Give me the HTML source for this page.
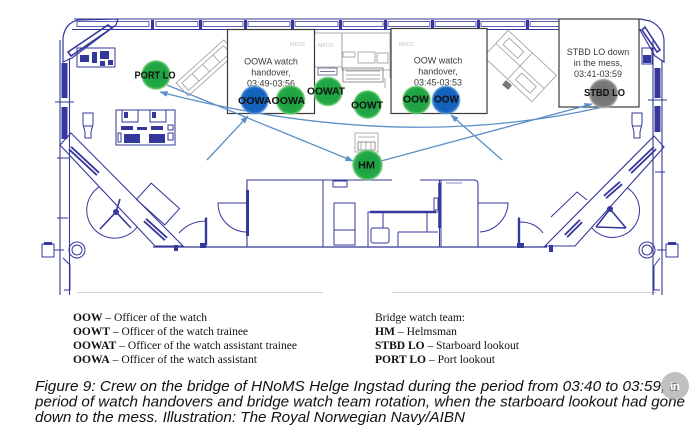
<!DOCTYPE html>
<html><head><meta charset="utf-8">
<style>
html,body{margin:0;padding:0;background:#fff;}
body{width:700px;height:428px;overflow:hidden;position:relative;}
svg{position:absolute;left:0;top:0;display:block;}
</style></head><body>
<svg width="700" height="428" viewBox="0 0 700 428" xmlns="http://www.w3.org/2000/svg">
<defs>
<marker id="ah" markerWidth="8" markerHeight="6" refX="7.5" refY="3" orient="auto" markerUnits="userSpaceOnUse"><path d="M0,0 L8,3 L0,6 z" fill="#5b8fc7"/></marker>
<radialGradient id="gg"><stop offset="0" stop-color="#1c9e40"/><stop offset="0.78" stop-color="#22a846"/><stop offset="0.9" stop-color="#62c468"/><stop offset="1" stop-color="#b9e6b4" stop-opacity="0"/></radialGradient>
<radialGradient id="gb"><stop offset="0" stop-color="#0f5db5"/><stop offset="0.78" stop-color="#1565c0"/><stop offset="0.9" stop-color="#4e90d8"/><stop offset="1" stop-color="#a8c8ee" stop-opacity="0"/></radialGradient>
<radialGradient id="gy"><stop offset="0" stop-color="#6f6f6f"/><stop offset="0.78" stop-color="#7a7a7a"/><stop offset="0.9" stop-color="#a0a0a0"/><stop offset="1" stop-color="#d0d0d0" stop-opacity="0"/></radialGradient>
</defs>

<!-- faint page line -->
<path d="M77,292.5 H323 M392,292.5 H657" stroke="#d4d4d8" stroke-width="1" fill="none"/>

<!-- ===== floor plan (navy) ===== -->
<g stroke="#34379b" fill="none" stroke-width="1">
  <!-- top wall -->
  <path d="M74,19 H641 M72,29.5 H641"/>
  <g stroke-width="0.8">
    <rect x="77" y="21.5" width="72" height="5"/>
    <rect x="156" y="21.5" width="42" height="5"/>
    <rect x="203" y="21.5" width="40" height="5"/>
    <rect x="248" y="21.5" width="42" height="5"/>
    <rect x="295" y="21.5" width="43" height="5"/>
    <rect x="343" y="21.5" width="40" height="5"/>
    <rect x="388" y="21.5" width="42" height="5"/>
    <rect x="435" y="21.5" width="41" height="5"/>
    <rect x="481" y="21.5" width="44" height="5"/>
    <rect x="530" y="21.5" width="42" height="5"/>
    <rect x="577" y="21.5" width="41" height="5"/>
  </g>
  <g fill="#34379b" stroke="none">
    <rect x="151" y="20" width="3" height="9"/><rect x="199" y="20" width="3" height="9"/>
    <rect x="244" y="20" width="3" height="9"/><rect x="291" y="20" width="3" height="9"/>
    <rect x="339" y="20" width="3" height="9"/><rect x="384" y="20" width="3" height="9"/>
    <rect x="431" y="20" width="3" height="9"/><rect x="477" y="20" width="3" height="9"/>
    <rect x="526" y="20" width="3" height="9"/><rect x="573" y="20" width="3" height="9"/>
  </g>
  <!-- top-left corner -->
  <path d="M63,62 V38 Q65,23 78,20 L118,19 L116,25 L72,58 Z" stroke-width="1.2"/>
  <path d="M68,52 L108,25 L112,28 L71,56 Z" stroke-width="1.6"/>
  <!-- top-left equipment -->
  <rect x="77" y="48" width="38" height="19"/>
  <g fill="#34379b" stroke="none">
    <rect x="80" y="55" width="9" height="7"/><rect x="92" y="52" width="5" height="11"/>
    <rect x="100" y="51" width="9" height="8"/><rect x="100" y="61" width="5" height="5"/><rect x="108" y="60" width="5" height="5"/>
  </g>
  <!-- left wall -->
  <path d="M60,40 V295 M69.5,58 V295" stroke-width="1.1"/>
  <path d="M55,102 H74"/>
  <rect x="61.5" y="63" width="6" height="35" fill="#34379b" stroke="none"/>
  <rect x="61.5" y="107" width="6" height="32" fill="#34379b" stroke="none"/>
  <!-- left chair -->
  <path d="M83,113 H93 V124 L91,132 V138 H85 V132 L83,124 Z"/>
  <path d="M84,126 H92"/>
  <!-- left console -->
  <rect x="116" y="110" width="59" height="35"/>
  <rect x="122" y="110" width="16" height="12"/><rect x="150" y="110" width="16" height="12"/>
  <rect x="168" y="125" width="5" height="5"/><rect x="168" y="133" width="5" height="7"/>
  <rect x="118" y="133" width="3" height="9"/>
  <g fill="#34379b" stroke="none">
    <rect x="121" y="126" width="12" height="4"/><rect x="137" y="127" width="10" height="3"/><rect x="151" y="126" width="12" height="4"/>
    <rect x="124" y="134" width="16" height="9"/><rect x="149" y="134" width="16" height="9"/>
    <rect x="124" y="112" width="4" height="6"/><rect x="152" y="112" width="4" height="6"/>
  </g>
  <!-- lower-left diagonal console -->
  <path d="M60,145 L71,133 L183,246 L155,246 Z" stroke-width="1.1"/>
  <path d="M70,148 L98,174" stroke-width="5"/>
  <path d="M70,148 L98,174" stroke="#fff" stroke-width="1.4"/>
  <path d="M145,220 L166,239" stroke-width="5"/>
  <path d="M145,220 L166,239" stroke="#fff" stroke-width="1.4"/>
  <rect x="-19" y="-11" width="38" height="22" transform="translate(158,204) rotate(42)"/>
  <path d="M99.3,186.8 A28,28 0 1 0 137.1,227"/>
  <path d="M116,212 L100,229 M116,212 L131,228 M116,212 L120,199" stroke-width="1.6"/>
  <circle cx="116" cy="212" r="2.5" fill="#34379b"/>
  <!-- lower-left small items -->
  <circle cx="77" cy="250" r="8"/><circle cx="77" cy="250" r="5"/>
  <rect x="42" y="244" width="12" height="13"/><path d="M54,250 H64"/>
  <rect x="44" y="242" width="8" height="3" fill="#34379b" stroke="none"/>
  <path d="M63,258 L70,265 L70,290 L64,290"/>
  <path d="M57,158 H70 M57,218 H68"/>
  <!-- floor -->
  <path d="M153,247 H547" stroke-width="1.2"/>
  <!-- left small door element -->
  <path d="M206,247 V217 M206,221 Q190,221 179,233"/>
  <path d="M206,218 V245" stroke-width="2.4"/>
  <rect x="200" y="243" width="6" height="5" fill="#34379b" stroke="none"/>
  <rect x="174" y="245" width="4" height="6" fill="#34379b" stroke="none"/>
  <!-- central block -->
  <path d="M247,247 V180 H392 M420,180 H474 Q478,180 478,184 V247" stroke-width="1.1"/>
  <path d="M247.5,190 V236" stroke-width="3"/>
  <path d="M247,203 H218 A29,29 0 0 0 247,232"/>
  <path d="M323,180 V247"/>
  <rect x="333" y="181" width="14" height="6"/>
  <rect x="334" y="203" width="21" height="42"/><path d="M334,230 H355"/>
  <path d="M368,247 V212 H438"/>
  <path d="M370,212 H436" stroke-width="2.5"/>
  <path d="M383,212 V228 M398,232 V247 M398,232 H438 M427,212 V232"/>
  <rect x="371" y="228" width="18" height="15" rx="2"/>
  <path d="M439.5,180 V247 M441,180 V247"/>
  <path d="M439.5,183 V228" stroke-width="2.6"/>
  <rect x="434" y="198" width="4" height="12"/>
  <path d="M478,203 H508 A30,30 0 0 1 480,232"/>
  <path d="M446,183 H462" stroke-width="0.6"/>
  <!-- right small door element -->
  <path d="M519,247 V217 M520,222 Q535,222 543,233"/>
  <path d="M519,218 V245" stroke-width="2.4"/>
  <rect x="517" y="243" width="7" height="5" fill="#34379b" stroke="none"/>
  <rect x="549" y="245" width="4" height="7" fill="#34379b" stroke="none"/>
  <!-- lower-right diagonal console -->
  <path d="M545,246 L654,136 L664,147 L575,246 Z" stroke-width="1.1"/>
  <path d="M566,236 L581,221" stroke-width="5"/><path d="M566,236 L581,221" stroke="#fff" stroke-width="1.4"/>
  <path d="M605,197 L621,183" stroke-width="5"/><path d="M605,197 L621,183" stroke="#fff" stroke-width="1.4"/>
  <path d="M630,172 L655,148" stroke-width="5"/><path d="M630,172 L655,148" stroke="#fff" stroke-width="1.4"/>
  <path d="M551,217 L577,192 L587,200"/>
  <path d="M626.9,187.6 A27,27 0 1 1 591.5,227.4"/>
  <path d="M610,209 L596,227 M610,209 L626,228 M596,227 L626,228" stroke-width="1.6"/>
  <circle cx="610" cy="209" r="2.5" fill="#34379b"/>
  <!-- right wall -->
  <path d="M653,40 V295 M662,60 V295" stroke-width="1.1"/>
  <path d="M648,100 H667 M655,172 H665"/>
  <rect x="654.5" y="68" width="6" height="30" fill="#34379b" stroke="none"/>
  <rect x="654.5" y="106" width="6" height="26" fill="#34379b" stroke="none"/>
  <!-- top-right corner -->
  <path d="M640,19 L650,21 Q663,27 664,40 V62 L655,56 L640,30" stroke-width="1.2"/>
  <path d="M645,27 L660,50 L657,52 L642,30 Z" stroke-width="1.6"/>
  <rect x="642" y="48" width="10" height="16"/>
  <rect x="643" y="55" width="8" height="8" fill="#34379b" stroke="none"/>
  <!-- right chair -->
  <path d="M632,113 H642 V124 L640,132 V138 H634 V132 L632,124 Z"/>
  <path d="M633,126 H641"/>
  <!-- lower-right small items -->
  <circle cx="647" cy="250" r="8"/><circle cx="647" cy="250" r="5"/>
  <rect x="666" y="244" width="12" height="13"/><path d="M657,250 H666"/>
  <rect x="668" y="242" width="8" height="3" fill="#34379b" stroke="none"/>
  <path d="M660,258 L654,266 L654,290 L660,290"/>
</g>

<!-- ===== gray equipment ===== -->
<g stroke="#9a9aa0" fill="none" stroke-width="0.8">
  <g transform="translate(206,68) rotate(-42)">
    <rect x="-32" y="-9" width="64" height="18"/>
    <rect x="-28" y="-5" width="56" height="10"/>
    <path d="M-14,-5 V5 M0,-5 V5 M14,-5 V5"/>
  </g>
  <rect x="313" y="33" width="29" height="34"/>
  <rect x="342" y="33" width="48" height="37"/>
  <rect x="343" y="52" width="12" height="5"/>
  <rect x="358" y="52" width="17" height="11"/>
  <rect x="377" y="53" width="11" height="10"/>
  <rect x="318" y="68" width="19" height="7" stroke="#55588f"/>
  <path d="M320,71.5 H335" stroke="#55588f"/>
  <rect x="343" y="68" width="40" height="14" stroke="#777"/>
  <path d="M346,71 H380 M346,75 H380 M346,79 H380" stroke="#888"/>
  <path d="M385,78 V88 M315,30 V33 M390,70 V78"/>
  <rect x="355" y="133" width="23" height="19"/>
  <rect x="358" y="142" width="17" height="8" stroke="#777"/>
  <path d="M358,137 H375 M361,142 V150 M366,142 V150 M371,142 V150"/>
  <g transform="translate(520,66) rotate(43)">
    <rect x="-33" y="-18" width="66" height="36"/>
    <path d="M0,-18 V18 M-33,0 H33"/>
    <rect x="-27" y="-13" width="20" height="9"/>
    <rect x="6" y="4" width="20" height="9"/>
  </g>
  <rect x="503" y="82" width="8" height="6" fill="#777" stroke="none" transform="rotate(40 507 85)"/>
</g>
<g fill="#c4c4c8" font-family="Liberation Sans, sans-serif" font-size="5.5">
  <text x="318" y="47">MFD3</text>
</g>

<!-- ===== annotation boxes ===== -->
<g fill="#fff" stroke="#3a3a3a" stroke-width="1.2">
  <rect x="227.5" y="29.5" width="87" height="84"/>
  <rect x="391" y="28.5" width="96" height="85"/>
  <rect x="559" y="19" width="80" height="88"/>
</g>
<g fill="#c4c4c8" font-family="Liberation Sans, sans-serif" font-size="5.5">
  <text x="290" y="46">MFD2</text>
  <text x="399" y="46">MFD1</text>
</g>
<g fill="#3a3a3a" font-family="Liberation Sans, sans-serif" font-size="9" text-anchor="middle">
  <text x="271" y="64.5">OOWA watch</text>
  <text x="271" y="75.5">handover,</text>
  <text x="271" y="86.5">03:49-03:56</text>
  <text x="438" y="63.5">OOW watch</text>
  <text x="438" y="74.5">handover,</text>
  <text x="438" y="85.5">03:45-03:53</text>
  <text x="598" y="55">STBD LO down</text>
  <text x="598" y="66">in the mess,</text>
  <text x="598" y="77">03:41-03:59</text>
</g>

<!-- ===== connectors ===== -->
<g stroke="#5b8fc7" stroke-width="1.3" fill="none">
  <path d="M167,85 L353,161" marker-end="url(#ah)"/>
  <path d="M381,161 L592,104" marker-end="url(#ah)"/>
  <path d="M603,107 Q398,154 160,92" marker-end="url(#ah)"/>
  <path d="M207,160 L248,116" marker-end="url(#ah)"/>
  <path d="M502,160 L451,115" marker-end="url(#ah)"/>
</g>

<!-- ===== crew circles ===== -->
<circle cx="156" cy="75" r="15.5" fill="url(#gg)"/>
<circle cx="254.5" cy="100" r="15" fill="url(#gb)"/>
<circle cx="290.5" cy="100" r="15.5" fill="url(#gg)"/>
<circle cx="328" cy="91.5" r="15.5" fill="url(#gg)"/>
<circle cx="367.5" cy="104.5" r="15" fill="url(#gg)"/>
<circle cx="416.5" cy="100" r="15" fill="url(#gg)"/>
<circle cx="446" cy="100" r="15" fill="url(#gb)"/>
<circle cx="603.5" cy="93.5" r="15.5" fill="url(#gy)"/>
<circle cx="367.5" cy="165" r="16" fill="url(#gg)"/>
<g fill="#111" font-family="Liberation Sans, sans-serif" font-weight="bold" font-size="10.5" text-anchor="middle">
  <text x="155" y="78.3" textLength="41" lengthAdjust="spacingAndGlyphs">PORT LO</text>
  <text x="271.5" y="104" textLength="67" lengthAdjust="spacingAndGlyphs">OOWAOOWA</text>
  <text x="326" y="94.3" textLength="38" lengthAdjust="spacingAndGlyphs">OOWAT</text>
  <text x="367" y="108.3" textLength="32" lengthAdjust="spacingAndGlyphs">OOWT</text>
  <text x="416" y="102.7" textLength="26" lengthAdjust="spacingAndGlyphs">OOW</text>
  <text x="446.5" y="102.7" textLength="25" lengthAdjust="spacingAndGlyphs">OOW</text>
  <text x="604.5" y="96" textLength="41" lengthAdjust="spacingAndGlyphs">STBD LO</text>
  <text x="366.5" y="168.3" textLength="17" lengthAdjust="spacingAndGlyphs">HM</text>
</g>

<!-- ===== legend ===== -->
<g fill="#111" font-family="Liberation Serif, serif" font-size="12">
  <text x="73" y="321" textLength="134" lengthAdjust="spacingAndGlyphs"><tspan font-weight="bold">OOW</tspan> – Officer of the watch</text>
  <text x="73" y="335" textLength="175" lengthAdjust="spacingAndGlyphs"><tspan font-weight="bold">OOWT</tspan> – Officer of the watch trainee</text>
  <text x="73" y="349" textLength="224" lengthAdjust="spacingAndGlyphs"><tspan font-weight="bold">OOWAT</tspan>  – Officer of the watch assistant trainee</text>
  <text x="73" y="363" textLength="184" lengthAdjust="spacingAndGlyphs"><tspan font-weight="bold">OOWA</tspan> – Officer of the watch assistant</text>
  <text x="375" y="321" textLength="90" lengthAdjust="spacingAndGlyphs">Bridge watch team:</text>
  <text x="375" y="335" textLength="82" lengthAdjust="spacingAndGlyphs"><tspan font-weight="bold">HM</tspan> – Helmsman</text>
  <text x="375" y="349" textLength="144" lengthAdjust="spacingAndGlyphs"><tspan font-weight="bold">STBD LO</tspan> – Starboard lookout</text>
  <text x="375" y="363" textLength="120" lengthAdjust="spacingAndGlyphs"><tspan font-weight="bold">PORT LO</tspan> – Port lookout</text>
</g>

<!-- ===== caption ===== -->
<g fill="#111" font-family="Liberation Sans, sans-serif" font-style="italic" font-size="15">
  <text x="35" y="391" textLength="643" lengthAdjust="spacingAndGlyphs">Figure 9: Crew on the bridge of HNoMS Helge Ingstad during the period from 03:40 to 03:59, a</text>
  <text x="35" y="406.5" textLength="650" lengthAdjust="spacingAndGlyphs">period of watch handovers and bridge watch team rotation, when the starboard lookout had gone</text>
  <text x="35" y="422" textLength="430" lengthAdjust="spacingAndGlyphs">down to the mess. Illustration: The Royal Norwegian Navy/AIBN</text>
</g>

<!-- watermark -->
<circle cx="675" cy="386" r="14" fill="#9e9e9e" fill-opacity="0.65"/>
<text x="675" y="390" fill="#fff" font-family="Liberation Sans, sans-serif" font-weight="bold" font-size="11" text-anchor="middle">in</text>
</svg>
</body></html>
